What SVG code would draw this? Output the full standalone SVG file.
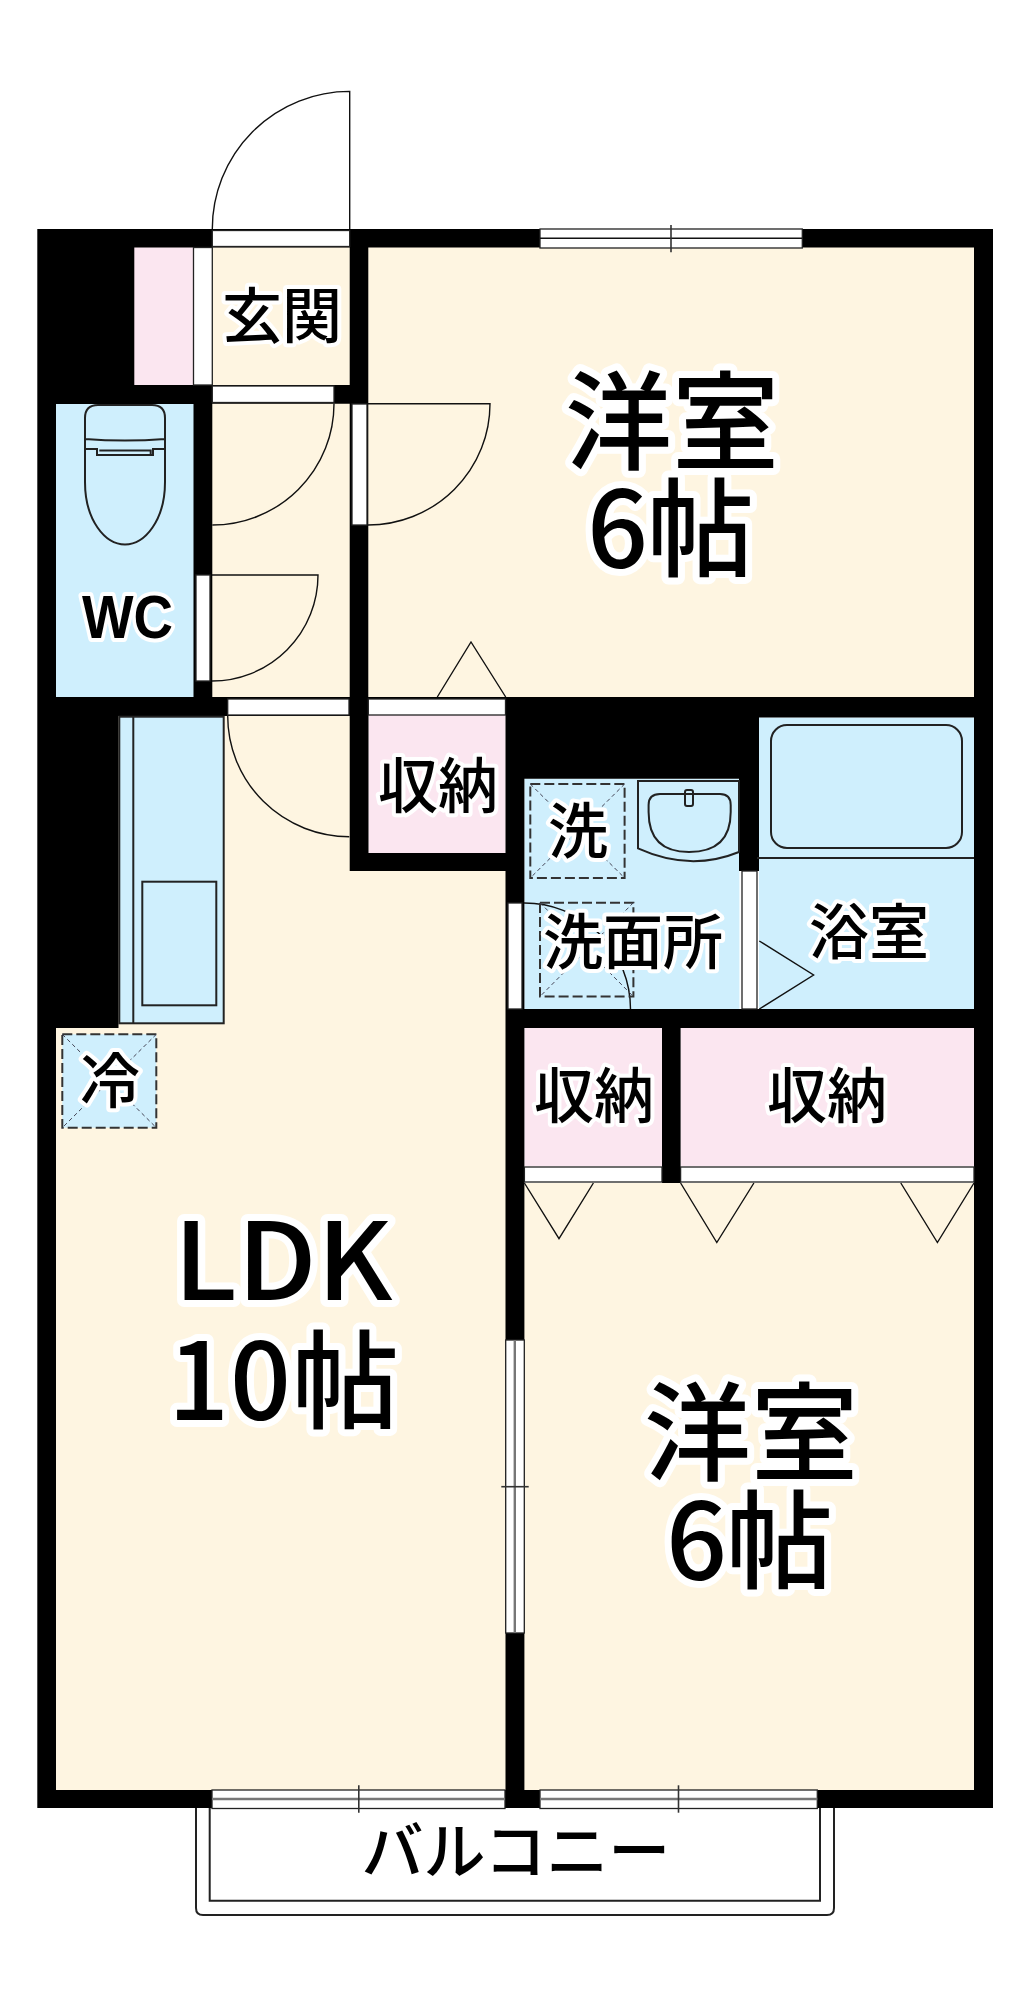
<svg xmlns="http://www.w3.org/2000/svg" width="1030" height="2000" viewBox="0 0 1030 2000">
<style>
.cr{fill:#fef5e1}.bl{fill:#cfeffd}.pk{fill:#fbe6f0}.bk{fill:#000}
.w{fill:#fff;stroke:#222;stroke-width:1.3}
.ln{fill:none;stroke:#111;stroke-width:1.4}
.ln2{fill:none;stroke:#222;stroke-width:2}
.gr{fill:none;stroke:#777;stroke-width:2.4}
.tk{fill:none;stroke:#333;stroke-width:1.6}
.da{fill:none;stroke:#333;stroke-width:2;stroke-dasharray:10 4}
.dt{fill:none;stroke:#445;stroke-width:1;stroke-dasharray:4 3}
text{font-family:"Noto Sans CJK JP","Noto Sans",sans-serif;font-weight:700;fill:#000;text-anchor:middle;stroke:#fff;paint-order:stroke;stroke-linejoin:round}
.b{font-size:107px;stroke-width:14px;font-weight:500}
.s{font-size:60px;stroke-width:8px;font-weight:500}
</style>
<rect width="1030" height="2000" fill="#fff"/>
<g id="floors">
<rect class="cr" x="56" y="1028" width="450" height="762"/>
<rect class="cr" x="118" y="716" width="232" height="320"/>
<rect class="cr" x="350" y="870" width="156" height="170"/>
<rect class="cr" x="368" y="247" width="606" height="450"/>
<rect class="cr" x="212" y="247" width="138" height="450"/>
<rect class="cr" x="524" y="1183" width="450" height="607"/>
<rect class="pk" x="134" y="247" width="60" height="138"/>
<rect class="bl" x="56" y="404" width="138" height="293"/>
<rect class="pk" x="368.5" y="715" width="137" height="138"/>
<rect class="bl" x="524.4" y="778.7" width="215" height="230.3"/>
<rect class="bl" x="759" y="717.5" width="215" height="292"/>
<rect class="pk" x="524.4" y="1028" width="138" height="138"/>
<rect class="pk" x="680.6" y="1028" width="293.4" height="138"/>
</g>
<g id="walls">
<path class="bk" fill-rule="evenodd" d="M37.3 229H993V1808H37.3Z M212.3 247.5H349.7V385H134.3V247.5Z M368.3 247.5H974V697H368.3Z M212.3 403.7H349.7V697H212.3Z M56 404H193.5V697H56Z M118.5 716H349.7V871H505.5V1790H56V1028H118.5Z M368.5 715H505.5V853H368.5Z M524.4 778.7H739V871H742V1009H524.4Z M759 717.5H974V1009H757V871H759Z M524.4 1028H662V1183H524.4Z M680.6 1028H974V1183H680.6Z M524.4 1183H974V1790H524.4Z"/>
</g>
<g id="openings">
<rect class="w" x="212.3" y="230.5" width="137.4" height="16"/>
<rect class="w" x="193.5" y="247.5" width="18.8" height="137.5"/>
<rect class="w" x="212.3" y="386" width="121.7" height="16.5"/>
<rect class="w" x="352" y="404" width="15" height="121"/>
<rect class="w" x="196" y="575" width="14" height="106"/>
<rect class="w" x="227.7" y="699" width="121.3" height="16"/>
<rect class="w" x="368.3" y="699" width="137.2" height="16"/>
<rect class="w" x="508" y="903" width="14" height="106"/>
<rect class="w" x="742" y="871" width="15" height="138"/>
<rect class="w" x="524.4" y="1167" width="137.6" height="15"/>
<rect class="w" x="680.6" y="1167" width="293.4" height="15"/>
<rect class="w" x="540" y="229" width="262.3" height="19"/>
<path class="ln" d="M540 238.3H802.3"/>
<path class="tk" d="M671 225V252.3"/>
<rect class="w" x="212" y="1790" width="293" height="18.5"/>
<path class="gr" d="M212 1799H505"/>
<path class="tk" d="M358.8 1785.3V1812.7"/>
<rect class="w" x="540" y="1790" width="277.3" height="18.5"/>
<path class="gr" d="M540 1799H817.3"/>
<path class="tk" d="M678.5 1785.3V1812.7"/>
<rect class="w" x="505.7" y="1340" width="18.6" height="293"/>
<path class="gr" d="M514.8 1340V1633"/>
<path class="tk" d="M501.3 1486.7H528.7"/>
</g>
<g id="doors">
<path class="ln" d="M349.7 229V91.4A137.4 137.6 0 0 0 212.3 229"/>
<path class="ln" d="M334 403.7A121.7 121.3 0 0 1 212.3 525"/>
<path class="ln" d="M368 403.7H490A122 121.3 0 0 1 368 525"/>
<path class="ln" d="M212 575H318A106 106 0 0 1 212 681"/>
<path class="ln" d="M227.7 716A121.6 120.7 0 0 0 349.3 836.7"/>
<path class="ln" d="M437.3 697L471 642L505.7 697"/>
<path class="ln" d="M524 903A106 106 0 0 1 630.5 1009"/>
<path class="ln" d="M759.3 941L813.6 975L759.3 1009"/>
<path class="ln" d="M524.4 1183L559 1238.7L593.4 1183"/>
<path class="ln" d="M680.6 1183L716.8 1242.5L753.9 1183"/>
<path class="ln" d="M900.8 1183L937.4 1242.5L974 1183"/>
</g>
<g id="fixtures">
<path class="ln2" d="M85 439V418Q85 405 98 405H152Q165 405 165 418V439M85 439Q125 442 165 439V482C165 520 145 544.5 125 544.5C105 544.5 85 520 85 482Z"/>
<path class="ln2" d="M85 449H97V455H153V449H165M99.3 450.6H150.7V455" stroke-width="1.5"/>
<rect x="119.3" y="716.7" width="104.4" height="306.6" class="bl" stroke="#222" stroke-width="2"/>
<path class="ln2" d="M133.3 716.7V1023.3"/>
<rect x="142.3" y="881.7" width="74" height="123.6" class="ln2"/>
<rect class="bl" x="62.3" y="1034.3" width="94" height="93.4"/>
<rect class="da" x="62.3" y="1034.3" width="94" height="93.4"/>
<path class="dt" d="M62.3 1034.3L156.3 1127.7M156.3 1034.3L62.3 1127.7"/>
<rect class="da" x="530.3" y="784" width="94.3" height="94"/>
<path class="dt" d="M530.3 784L624.6 878M624.6 784L530.3 878"/>
<rect class="da" x="540" y="902.7" width="93.4" height="93.8"/>
<path class="dt" d="M540 902.7L633.4 996.5M633.4 902.7L540 996.5"/>
<path class="ln2" d="M638 781H739V852Q690 872 638 848.4Z"/>
<path class="ln2" d="M648.6 812V805Q648.6 794 660 794H720Q730.7 794 730.7 805V812Q730.7 852 689 852Q648.6 852 648.6 812Z"/>
<rect x="685" y="790" width="8" height="16" rx="2" class="ln2" fill="#cfeffd"/>
<rect x="771" y="725" width="191" height="123" rx="16" class="ln2"/>
<path class="ln2" d="M757 858H974"/>
</g>
<g id="balcony">
<path class="ln2" d="M196 1808V1908Q196 1915 203 1915H827Q834 1915 834 1908V1808"/>
<path class="ln2" d="M209.7 1808V1900.7H820V1808"/>
</g>
<g id="labels">
<text class="s" x="282" y="338">玄関</text>
<text x="127.5" y="638" textLength="91" lengthAdjust="spacingAndGlyphs" style="font-family:'Liberation Sans',sans-serif;font-size:62px;stroke-width:8px">WC</text>
<text class="s" x="438" y="808">収納</text>
<text class="s" x="578" y="853">洗</text>
<text class="s" x="633" y="964">洗面所</text>
<text class="s" x="869" y="954">浴室</text>
<text class="s" x="594" y="1118">収納</text>
<text class="s" x="827" y="1118">収納</text>
<text class="s" x="110" y="1103">冷</text>
<text class="b"><tspan x="672" y="461">洋室</tspan><tspan x="670" y="568" letter-spacing="-1">6帖</tspan></text>
<text class="b"><tspan x="283" y="1300" textLength="219" lengthAdjust="spacingAndGlyphs">LDK</tspan></text>
<text class="b"><tspan x="284" y="1420" letter-spacing="1">10帖</tspan></text>
<text class="b"><tspan x="751" y="1472">洋室</tspan><tspan x="749" y="1580" letter-spacing="-1">6帖</tspan></text>
<text x="516" y="1874" style="font-size:62px;stroke:none;font-weight:500">バルコニー</text>
</g>
</svg>
